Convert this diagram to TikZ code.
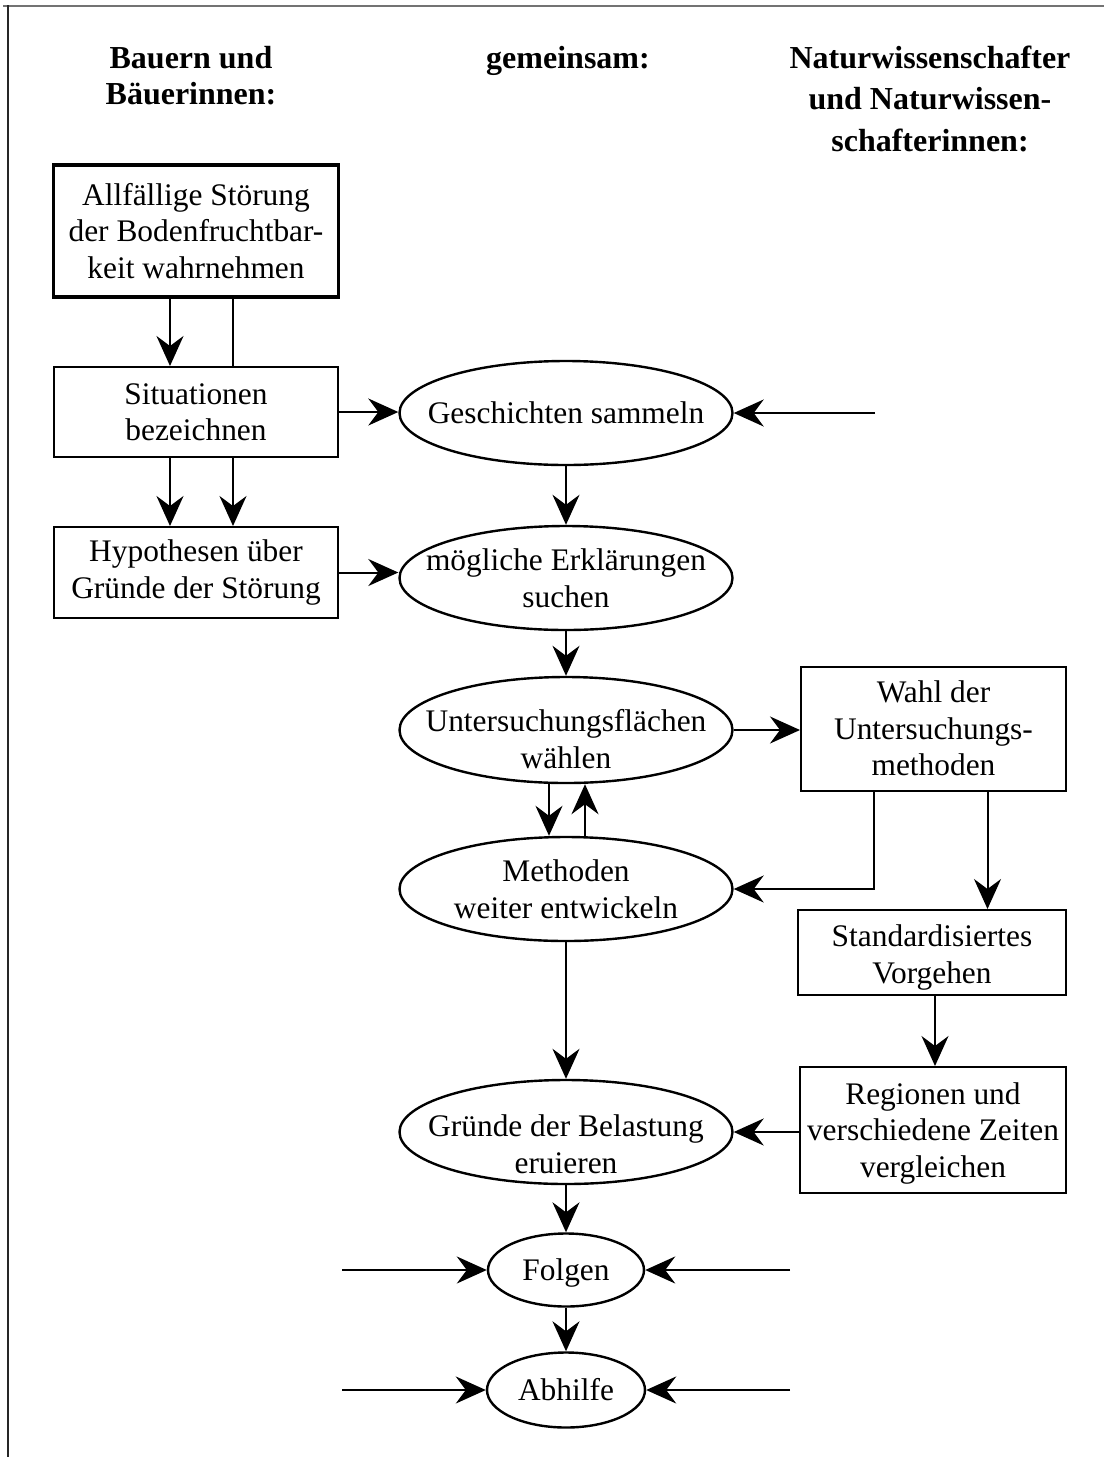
\documentclass[tikz,border=0pt]{standalone}
\usepackage{fontspec}
\setmainfont{Liberation Serif}
\usetikzlibrary{arrows.meta,shapes.geometric}
\newcommand\bodyf{\fontsize{15.7}{18.25}\selectfont}
\newcommand\headfa{\fontsize{16}{18}\selectfont\bfseries}
\newcommand\headfb{\fontsize{16}{20.75}\selectfont\bfseries}
\begin{document}
\begin{tikzpicture}[x=0.5pt, y=-0.5pt,
  arr/.style={-{Stealth[length=15pt,width=13.5pt,inset=5pt]}, line width=1pt},
  ln/.style={line width=1pt},
  box/.style={draw, rectangle, line width=1pt, inner sep=0pt, align=center, font=\bodyf},
  oval/.style={draw, ellipse, line width=1.2pt, inner sep=0pt, minimum width=166.5pt, minimum height=52pt},
  txt/.style={align=center, font=\bodyf, inner sep=0pt},
  head/.style={align=center, inner sep=0pt}]
\useasboundingbox (0,0) rectangle (1104,1457);
% frame
\draw[line width=1pt, black!55] (3,5.5) -- (1104,5.5);
\draw[line width=0.8pt, black!85] (8,5) -- (8,1457);
% headers
\node[head, font=\headfa] (h1) at (191,76) {Bauern und\\Bäuerinnen:};
\node[head, font=\headfa, anchor=base] (h2) at (568,68) {gemeinsam:};
\node[head, font=\headfb] (h3) at (930,98.5) {Naturwissenschafter\\und Naturwissen-\\schafterinnen:};
% left column
\node[box, line width=1.8pt, minimum width=142.5pt, minimum height=66pt] (b1) at (196,231) {Allfällige Störung\\der Bodenfruchtbar-\\keit wahrnehmen};
\node[box, minimum width=142pt, minimum height=45pt] (b2) at (196,412) {Situationen\\bezeichnen};
\node[box, minimum width=142pt, minimum height=45.5pt] (b3) at (196,572.5) {Hypothesen über\\Gründe der Störung};
% middle column
\node[oval] (E1) at (566,413) {};
\node[txt] (t1) at (E1) {Geschichten sammeln};
\node[oval] (E2) at (566,578) {};
\node[txt] (t2) at (E2) {mögliche Erklärungen\\suchen};
\node[oval, minimum height=53pt] (E3) at (566,730) {};
\node[txt] (t3) at ([yshift=-4.5pt]E3) {Untersuchungsflächen\\wählen};
\node[oval] (E4) at (566,889) {};
\node[txt] (t4) at (E4) {Methoden\\weiter entwickeln};
\node[oval] (E5) at (566,1132) {};
\node[txt] (t5) at ([yshift=-6pt]E5) {Gründe der Belastung\\eruieren};
\node[oval, minimum width=78pt, minimum height=36.5pt] (F) at (566,1270) {};
\node[txt] (tF) at ([yshift=-1.5pt]F) {Folgen};
\node[oval, minimum width=79pt, minimum height=37.5pt] (A) at (566,1390) {};
\node[txt] (tA) at (A) {Abhilfe};
% right column
\node[box, minimum width=132.5pt, minimum height=62pt] (W) at (933.5,728.5) {Wahl der\\Untersuchungs-\\methoden};
\node[box, minimum width=134pt, minimum height=42.5pt] (S) at (932,952.5) {};
\node[txt] (tS) at ([yshift=-2.5pt]S) {Standardisiertes\\Vorgehen};
\node[box, minimum width=133pt, minimum height=63pt] (R) at (933,1130) {};
\node[txt] (tR) at ([yshift=-1.5pt]R) {Regionen und\\verschiedene Zeiten\\vergleichen};
% free ends
\coordinate (inE1) at (875,413);
\coordinate (inFl) at (342,1270);
\coordinate (inFr) at (790,1270);
\coordinate (inAl) at (342,1390);
\coordinate (inAr) at (790,1390);
% connectors
\draw[arr] ([xshift=-13pt]b1.south) -- ([xshift=-13pt]b2.north);
\draw[ln] ([xshift=18.5pt]b1.south) -- ([xshift=18.5pt]b2.north);
\draw[arr] ([xshift=-13pt]b2.south) -- ([xshift=-13pt]b3.north);
\draw[arr] ([xshift=18.5pt]b2.south) -- ([xshift=18.5pt]b3.north);
\draw[arr] (b2.east) -- (b2.east -| E1.west);
\draw[arr] (inE1) -- (E1.east);
\draw[arr] (b3.east) -- (b3.east -| E2.west);
\draw[arr] (E1.south) -- (E2.north);
\draw[arr] (E2.south) -- (E3.north);
\draw[arr] (E3.east) -- (E3.east -| W.west);
\draw[arr] ([xshift=-8.5pt]E3.south) -- ([xshift=-8.5pt]E4.north);
\draw[arr] ([xshift=9.5pt]E4.north) -- ([xshift=9.5pt]E3.south);
\draw[arr] ([xshift=-30pt]W.south) |- (E4.east);
\draw[arr] ([xshift=27pt]W.south) -- ([xshift=27pt]W.south |- S.north);
\draw[arr] ([xshift=1.5pt]S.south) -- ([xshift=1.5pt]S.south |- R.north);
\draw[arr] (E5.east -| R.west) -- (E5.east);
\draw[arr] (E4.south) -- (E5.north);
\draw[arr] (E5.south) -- (F.north);
\draw[arr] (F.south) -- (A.north);
\draw[arr] (inFl) -- (F.west);
\draw[arr] (inFr) -- (F.east);
\draw[arr] (inAl) -- (A.west);
\draw[arr] (inAr) -- (A.east);
\end{tikzpicture}
\end{document}
